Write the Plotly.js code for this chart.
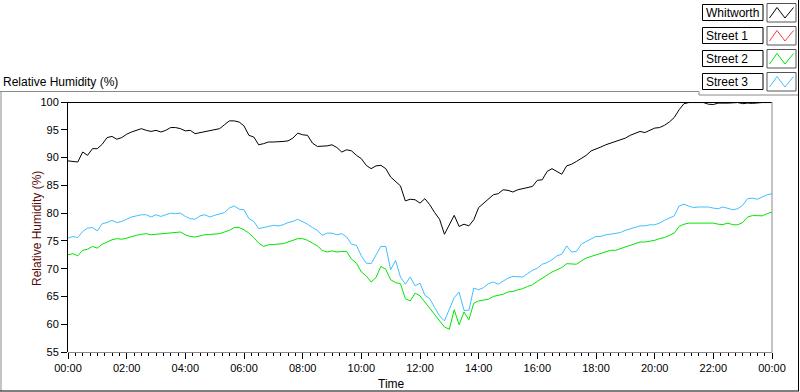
<!DOCTYPE html>
<html>
<head>
<meta charset="utf-8">
<script src="https://cdn.plot.ly/plotly-3.0.1.min.js"></script>
<style>html,body{margin:0;padding:0;background:#fff;}#chart{width:800px;height:392px;}</style>
</head>
<body>
<div id="chart"></div>
<script>
// ---- data ----
var sampleStepMinutes = 10;           // one reading every 10 minutes, 00:00 .. 24:00
var seriesNames = ["Whitworth", "Street 1", "Street 2", "Street 3"];
var seriesColors = ["#000000", "#ff3c3c", "#00e600", "#40bfff"];
var tickLabels = ["00:00","02:00","04:00","06:00","08:00","10:00","12:00","14:00","16:00","18:00","20:00","22:00","00:00"];
var tickMinutes = [0,120,240,360,480,600,720,840,960,1080,1200,1320,1440];

var whitworth = [
 89.4, 89.3, 89.2, 91.0, 90.4, 91.6, 91.6, 92.4, 93.6, 93.8, 93.3, 93.6,
 94.2, 94.6, 94.9, 95.2, 94.9, 94.7, 94.9, 94.6, 94.9, 95.4, 95.4, 95.2,
 94.8, 94.9, 94.3, 94.5, 94.7, 94.8, 95.0, 95.2, 95.9, 96.6, 96.6, 96.4,
 95.7, 94.0, 93.7, 92.3, 92.5, 92.8, 92.8, 92.8, 92.9, 93.0, 93.5, 94.4,
 94.1, 94.0, 92.6, 92.0, 92.0, 92.1, 92.3, 91.8, 91.0, 91.4, 91.2, 90.4,
 89.8, 88.6, 88.0, 88.5, 88.6, 88.0, 86.5, 85.7, 84.9, 82.2, 82.5, 82.4,
 81.8, 82.6, 81.5, 80.1, 78.9, 76.2, 78.0, 79.6, 77.6, 78.0, 77.7, 78.8,
 81.0, 81.8, 82.5, 83.3, 83.5, 84.2, 84.1, 83.8, 84.2, 84.4, 84.6, 84.8,
 85.9, 86.0, 87.5, 88.0, 87.5, 87.0, 88.5, 88.8, 89.3, 89.9, 90.4, 91.2,
 91.5, 91.9, 92.3, 92.6, 92.9, 93.1, 93.5, 94.0, 94.4, 94.7, 94.5, 94.9,
 95.3, 95.4, 95.8, 96.4, 97.2, 98.6, 99.7, 99.9, 99.9, 99.85, 99.9, 99.6,
 99.55, 99.8, 99.75, 99.8, 99.85, 99.9, 99.7, 99.8, 99.75, 99.85, 99.9, 99.9,
 99.9
];
var street1 = [];
var street2 = [
 72.5, 72.7, 72.3, 73.3, 73.5, 74.0, 73.7, 74.4, 74.8, 75.2, 75.4, 75.3,
 75.5, 75.8, 76.0, 76.2, 76.3, 76.1, 76.2, 76.3, 76.4, 76.5, 76.6, 76.6,
 76.1, 75.8, 75.7, 75.9, 76.1, 76.15, 76.2, 76.3, 76.6, 76.9, 77.4, 77.4,
 77.0, 76.4, 75.6, 74.6, 74.0, 74.3, 74.35, 74.4, 74.5, 74.8, 75.1, 75.4,
 75.4, 75.1, 74.6, 74.1, 73.3, 73.0, 73.2, 73.0, 73.1, 73.1, 71.7, 71.0,
 69.4, 68.7, 67.6, 68.4, 70.4, 69.9, 68.0, 67.5, 67.3, 64.6, 64.2, 65.6,
 65.1, 64.0, 62.8, 61.7, 60.6, 59.5, 59.1, 62.6, 59.9, 62.2, 60.8, 63.8,
 64.2, 64.3, 64.5, 65.0, 65.2, 65.4, 65.8, 65.9, 66.2, 66.4, 66.8, 67.1,
 67.7, 68.3, 68.9, 69.4, 69.8, 70.2, 70.9, 70.8, 70.8, 71.4, 71.9, 72.2,
 72.5, 72.7, 73.1, 73.3, 73.3, 73.6, 73.9, 74.2, 74.5, 74.8, 74.8, 74.95,
 75.1, 75.4, 75.6, 76.0, 76.4, 77.6, 78.0, 78.2, 78.2, 78.15, 78.1, 78.1,
 78.2, 78.0, 77.95, 78.2, 77.9, 77.9, 78.3, 79.3, 79.55, 79.55, 79.5, 79.9,
 80.2
];
var street3 = [
 75.5, 75.8, 75.6, 76.7, 77.3, 77.4, 76.8, 78.1, 78.3, 78.7, 78.3, 78.5,
 78.9, 79.3, 79.5, 79.7, 79.7, 79.3, 79.7, 79.4, 79.7, 80.0, 79.9, 80.0,
 79.4, 79.0, 78.9, 79.5, 79.7, 79.3, 79.6, 79.8, 80.1, 80.9, 81.3, 80.7,
 80.6, 79.0, 78.5, 77.2, 77.4, 77.6, 77.8, 77.7, 77.9, 78.3, 78.5, 78.9,
 78.5, 78.0, 77.4, 76.9, 76.0, 76.4, 76.4, 76.1, 76.3, 75.7, 74.4, 74.2,
 72.3, 71.0, 70.9, 72.5, 74.0, 74.0, 69.8, 71.5, 68.5, 67.2, 68.5, 66.9,
 67.4, 65.2, 64.6, 63.0, 61.5, 60.6, 62.6, 64.8, 65.8, 62.5, 62.5, 66.5,
 66.2, 66.6, 67.3, 67.6, 67.2, 67.7, 68.3, 68.6, 68.6, 68.5, 69.1, 69.7,
 70.1, 70.8, 71.1, 71.6, 72.3, 72.6, 74.1, 73.0, 73.1, 74.4, 74.9, 75.3,
 75.8, 75.8, 76.1, 76.2, 76.3, 76.5, 76.9, 77.2, 77.4, 77.7, 77.7, 77.9,
 77.9, 78.2, 78.7, 79.15, 79.5, 81.3, 81.6, 81.25, 81.0, 81.1, 81.1, 81.1,
 80.9, 80.8, 81.1, 80.8, 80.6, 80.8, 81.4, 82.6, 82.7, 82.5, 82.9, 83.3,
 83.5
];

// ---- build ----
var minutes = [];
for (var i = 0; i < whitworth.length; i++) minutes.push(i * sampleStepMinutes);

var allSeries = [whitworth, street1, street2, street3];
var traces = allSeries.map(function (ys, k) {
  return {
    x: minutes.slice(0, ys.length), y: ys, type: "scatter", mode: "lines",
    name: seriesNames[k], line: {color: seriesColors[k], width: 1}, hoverinfo: "skip"
  };
});
// draw order: green and blue below black
traces = [traces[1], traces[2], traces[3], traces[0]];

var L = 68, T = 102, W = 704, H = 250;
function fx(px) { return (px - L) / W; }
function fy(py) { return (T + H - py) / H; }
function seg(x0, y0, x1, y1, color) {
  return {type: "line", xref: "paper", yref: "paper", x0: fx(x0), y0: fy(y0), x1: fx(x1), y1: fy(y1),
          line: {color: color, width: 1}, layer: "above"};
}
function box(x0, y0, x1, y1, color) {
  return {type: "rect", xref: "paper", yref: "paper", x0: fx(x0), y0: fy(y0), x1: fx(x1), y1: fy(y1),
          line: {color: color, width: 1}, fillcolor: "rgba(0,0,0,0)", layer: "above"};
}

var shapes = [
  // plot area border (sunken look)
  seg(68, 102.5, 772, 102.5, "#000"),
  seg(772, 102, 772, 352.5, "#8a8a8a"),
  seg(68, 352.5, 772, 352.5, "#8a8a8a"),
  // outer panel frame
  seg(0, 91.5, 699, 91.5, "#8a8a8a"),
  seg(699, 91.5, 699, 95, "#8a8a8a"),
  seg(699, 95, 798, 95, "#8a8a8a"),
  seg(1, 91.5, 1, 391, "#8a8a8a"),
  seg(0, 391, 799, 391, "#000"),
  seg(798.5, 0, 798.5, 391, "#000")
];
var annotations = [];
for (var k = 0; k < 4; k++) {
  var dy = 23 * k;
  shapes.push(box(702.5, 4.5 + dy, 763, 20.5 + dy, "#000"));
  shapes.push(box(767, 3.5 + dy, 796, 22 + dy, "#555"));
  var p = "M" + fx(769.5) + "," + fy(18 + dy) + " L" + fx(777) + "," + fy(7.5 + dy) +
          " L" + fx(785) + "," + fy(18 + dy) + " L" + fx(793.5) + "," + fy(7.5 + dy);
  shapes.push({type: "path", xref: "paper", yref: "paper", path: p, line: {color: seriesColors[k], width: 1}, layer: "above"});
  annotations.push({xref: "paper", yref: "paper", x: fx(703.5), y: fy(12.8 + dy), xanchor: "left", yanchor: "middle",
    text: seriesNames[k], showarrow: false, font: {size: 12, color: "#000"}});
}
annotations.push({xref: "paper", yref: "paper", x: fx(1), y: fy(82), xanchor: "left", yanchor: "middle",
  text: "Relative Humidity (%)", showarrow: false, font: {size: 12, color: "#000"}});
annotations.push({xref: "paper", yref: "paper", x: fx(37), y: fy(229), xanchor: "center", yanchor: "middle",
  textangle: -90, text: "Relative Humidity (%)", showarrow: false, font: {size: 12, color: "#5a0a0a"}});
annotations.push({xref: "paper", yref: "paper", x: fx(391), y: fy(384), xanchor: "center", yanchor: "middle",
  text: "Time", showarrow: false, font: {size: 12, color: "#000"}});

var layout = {
  width: 800, height: 392,
  margin: {l: L, r: 800 - L - W, t: T, b: 392 - T - H, pad: 0},
  paper_bgcolor: "#ffffff", plot_bgcolor: "#ffffff",
  font: {family: "Liberation Sans, Arial, sans-serif", size: 11, color: "#000"},
  showlegend: false,
  xaxis: {
    range: [0, 1440], tickmode: "array", tickvals: tickMinutes, ticktext: tickLabels,
    ticks: "outside", ticklen: 6, tickwidth: 1, tickcolor: "#000",
    showgrid: false, zeroline: false, showline: false,
    tickfont: {size: 11, color: "#000"},
    minor: {tickmode: "linear", tick0: 0, dtick: 15, ticks: "outside", ticklen: 3, tickwidth: 1, tickcolor: "#000", showgrid: false}
  },
  yaxis: {
    range: [55, 100], tickmode: "linear", tick0: 55, dtick: 5,
    ticks: "outside", ticklen: 6, tickwidth: 1, tickcolor: "#000",
    showline: true, linecolor: "#000", linewidth: 1,
    showgrid: false, zeroline: false, tickfont: {size: 11, color: "#000"}
  },
  shapes: shapes,
  annotations: annotations
};

Plotly.newPlot("chart", traces, layout, {staticPlot: true, displayModeBar: false});
</script>
</body>
</html>
